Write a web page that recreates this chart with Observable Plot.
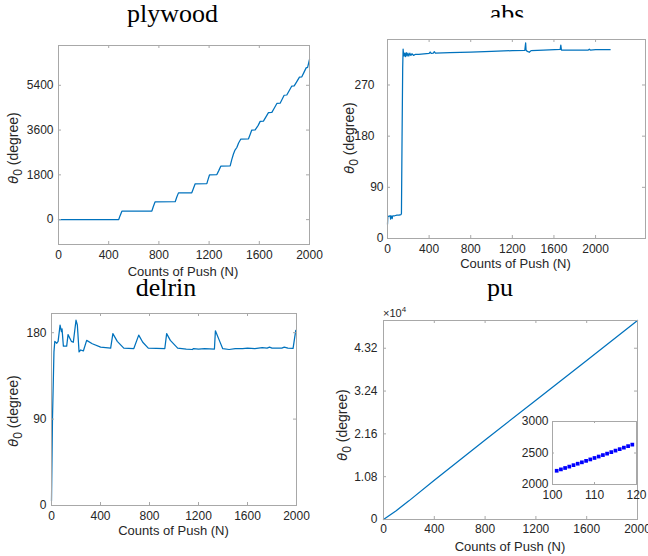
<!DOCTYPE html>
<html>
<head>
<meta charset="utf-8">
<script src="https://cdn.jsdelivr.net/npm/d3@7"></script>
<script src="https://cdn.jsdelivr.net/npm/@observablehq/plot@0.6"></script>
<style>
  html, body { margin: 0; padding: 0; background: white; }
  #root { position: relative; width: 648px; height: 556px; overflow: hidden; background: white; }
  #root svg { position: absolute; overflow: visible; }
</style>
</head>
<body>
<div id="root"></div>
<script>
// ---------- data ----------
const plywoodX = [0, 480, 490, 505, 744, 755, 770, 930, 942, 956, 1062, 1075, 1089, 1182, 1192, 1203, 1262, 1278, 1293, 1368, 1380, 1394, 1405, 1421, 1435, 1453, 1514, 1527, 1540, 1567, 1590, 1607, 1633, 1653, 1673, 1700, 1720, 1740, 1766, 1782, 1798, 1819, 1839, 1859, 1878, 1900, 1920, 1939, 1956, 1973, 1985, 2000];
const plywoodY = [0, 5, 150, 340, 345, 520, 715, 720, 900, 1075, 1080, 1250, 1440, 1445, 1620, 1795, 1810, 1980, 2150, 2160, 2400, 2640, 2780, 2900, 3080, 3240, 3250, 3420, 3600, 3610, 3780, 3950, 3960, 4130, 4300, 4310, 4490, 4670, 4680, 4840, 5000, 5010, 5190, 5370, 5380, 5560, 5730, 5740, 5920, 6100, 6120, 6440];

const absX = [0, 3, 8, 25, 30, 35, 45, 50, 70, 90, 110, 130, 134, 140, 146, 150, 153, 158, 165, 172, 180, 188, 196, 205, 215, 225, 235, 250, 270, 300, 400, 410, 420, 440, 450, 460, 600, 800, 1000, 1200, 1320, 1328, 1332, 1345, 1363, 1380, 1500, 1660, 1666, 1672, 1700, 1800, 1930, 1940, 1950, 2000, 2140];
const absY = [25, 38, 39, 40, 34, 40, 35, 40, 40, 41, 41, 42, 44, 180, 300, 333, 327, 321, 326, 320, 327, 321, 326, 321, 326, 322, 325, 322, 324, 324, 325.5, 328, 325.5, 326, 328.5, 326, 327, 328, 329, 330.5, 331, 344, 331, 329, 327.5, 330.5, 331.5, 332.5, 340, 331.5, 331.5, 331.5, 331.5, 333, 331.5, 332, 332];

const delrinX = [0, 8, 20, 27, 43, 54, 70, 81, 86, 97, 124, 135, 162, 178, 200, 211, 225, 238, 260, 287, 333, 401, 483, 501, 537, 590, 672, 712, 745, 790, 925, 940, 970, 1030, 1100, 1150, 1160, 1200, 1250, 1330, 1338, 1370, 1398, 1450, 1500, 1560, 1600, 1660, 1720, 1760, 1780, 1800, 1880, 1900, 1930, 1972, 1994];
const delrinY = [5, 90, 160, 171, 169, 171, 188, 181, 184, 166, 166, 178, 171, 170, 193, 188, 160, 162, 161, 172, 168.5, 165, 164, 179, 171, 164, 163.5, 177.5, 170, 164, 163.5, 179, 172, 164, 163, 162.5, 163.5, 163, 163.5, 163, 182, 172, 163.3, 162.5, 163.5, 163.5, 164, 163.5, 164.5, 164, 165, 164, 164, 165, 164, 163.7, 182.5];

const puX = [0, 100, 200, 400, 800, 1200, 1600, 2000];
const puY = [0, 2220, 4700, 9900, 20050, 30100, 40100, 50200];

const insetX = [101, 102, 103, 104, 105, 106, 107, 108, 109, 110, 111, 112, 113, 114, 115, 116, 117, 118, 119];
const insetY = [2218, 2240, 2262, 2284, 2307, 2330, 2352, 2375, 2398, 2421, 2444, 2467, 2490, 2514, 2538, 2561, 2585, 2609, 2633];

const countTicks = [0, 400, 800, 1200, 1600, 2000];
const plywoodYTicks = [0, 1800, 3600, 5400];
const absYTicks = [0, 90, 180, 270];
const delrinYTicks = [0, 90, 180];
const puYTicks = [0, 10800, 21600, 32400, 43200];
const insetXTicks = [100, 110, 120];
const insetYTicks = [2000, 2500, 3000];

const titles = ["plywood", "abs", "delrin", "pu"];
const xLabel = "Counts of Push (N)";

// ---------- rendering ----------
const root = document.getElementById("root");
const AX = "#a8a8a8";
const TXT = "#262626";
const BLUE = "#0072BD";
const FONT = "'Liberation Sans', Arial, Helvetica, sans-serif";

function panel(cfg) {
  const mL = 50, mR = 30, mT = 12, mB = 28;
  const [l, t, r, b] = cfg.frame;
  const W = r - l, H = b - t;
  const tk = cfg.tick ?? 3;
  const fmt = d => String(d);
  // y tick labels, optionally in groups with their own padding
  const yGroups = cfg.yGroups ?? [[cfg.yTicks, cfg.yPad]];
  const chart = Plot.plot({
    width: W + mL + mR, height: H + mT + mB,
    marginLeft: mL, marginRight: mR, marginTop: mT, marginBottom: mB,
    x: {domain: cfg.xDomain},
    y: {domain: cfg.yDomain},
    style: {fontFamily: FONT, fontSize: "12px", color: TXT, background: "transparent", overflow: "visible"},
    marks: [
      Plot.frame({fill: "white", stroke: "none"}),
      ...cfg.marks,
      Plot.tickX(cfg.xTicks, {x: d => d, insetTop: H - tk, stroke: AX}),
      Plot.tickX(cfg.xTicks, {x: d => d, insetBottom: H - tk, stroke: AX}),
      Plot.tickY(cfg.yTicks, {y: d => d, insetRight: W - tk, stroke: AX}),
      Plot.tickY(cfg.yTicks, {y: d => d, insetLeft: W - tk, stroke: AX}),
      Plot.frame({stroke: AX}),
      Plot.axisX(cfg.xTicks, {tickSize: 0, tickPadding: cfg.xPad ?? 6, label: null, tickFormat: fmt, fill: TXT}),
      ...yGroups.map(([ticks, pad]) =>
        Plot.axisY(ticks, {tickSize: 0, tickPadding: pad, label: null, tickFormat: cfg.yFmt ?? fmt, fill: TXT}))
    ]
  });
  chart.style.left = (l - mL) + "px";
  chart.style.top = (t - mT) + "px";
  root.appendChild(chart);
}

const lineOpts = {x: "x", y: "y", stroke: BLUE, strokeWidth: 1.25};
const rows = (xs, ys) => xs.map((x, i) => ({x, y: ys[i]}));

panel({
  frame: [58, 45, 309, 244], xDomain: [0, 2000], yDomain: [-1000, 7000],
  xTicks: countTicks, yTicks: plywoodYTicks, yPad: 5,
  marks: [Plot.line(rows(plywoodX, plywoodY), lineOpts)]
});
panel({
  frame: [387, 39, 645, 238], xDomain: [0, 2480], yDomain: [0, 350],
  xTicks: countTicks, yTicks: absYTicks, yPad: 14, xPad: 6,
  yGroups: [[absYTicks.slice(0, 2), 4], [absYTicks.slice(2), 13]],
  marks: [Plot.line(rows(absX, absY), lineOpts)]
});
panel({
  frame: [51, 313, 296, 505], xDomain: [0, 2000], yDomain: [0, 200],
  xTicks: countTicks, yTicks: delrinYTicks, yPad: 5,
  marks: [Plot.line(rows(delrinX, delrinY), lineOpts)]
});
panel({
  frame: [383, 320, 637, 519], xDomain: [0, 2000], yDomain: [0, 50200],
  xTicks: countTicks, yTicks: puYTicks, yPad: 6, xPad: 5,
  yFmt: d => d === 0 ? "0" : (d / 1e4).toFixed(2),
  marks: [Plot.line(rows(puX, puY), lineOpts)]
});
panel({
  frame: [552, 421, 636, 484], xDomain: [100, 120], yDomain: [2000, 3000],
  xTicks: insetXTicks, yTicks: insetYTicks, yPad: 4, xPad: 6, tick: 2,
  marks: [Plot.dot(rows(insetX, insetY), {x: "x", y: "y", symbol: "square", r: 2.1, fill: "#0000ff", stroke: "none"})]
});

// ---------- text overlay ----------
const NS = "http://www.w3.org/2000/svg";
const ov = document.createElementNS(NS, "svg");
ov.setAttribute("width", 648);
ov.setAttribute("height", 556);
ov.style.left = "0px"; ov.style.top = "0px"; ov.style.pointerEvents = "none";
ov.innerHTML = `<defs><clipPath id="absclip"><rect x="440" y="0" width="140" height="17.5"/></clipPath></defs>`;
root.appendChild(ov);

function txt(s, x, y, opts = {}) {
  const e = document.createElementNS(NS, "text");
  e.setAttribute("x", x); e.setAttribute("y", y);
  e.setAttribute("text-anchor", opts.anchor ?? "middle");
  e.setAttribute("font-family", opts.family ?? FONT);
  e.setAttribute("font-size", opts.size ?? 13);
  e.setAttribute("fill", opts.fill ?? TXT);
  if (opts.clip) e.setAttribute("clip-path", `url(#${opts.clip})`);
  e.textContent = s;
  ov.appendChild(e);
  return e;
}
const SERIF = "'Liberation Serif', 'Times New Roman', Times, serif";
txt(titles[0], 172.5, 22, {family: SERIF, size: 26, fill: "#000"});
txt(titles[1], 507, 22, {family: SERIF, size: 26, fill: "#000", clip: "absclip"});
txt(titles[2], 166, 296, {family: SERIF, size: 26, fill: "#000"});
txt(titles[3], 500, 296, {family: SERIF, size: 26, fill: "#000"});

txt(xLabel, 183, 276, {size: 13});
txt(xLabel, 515.5, 268, {size: 13});
txt(xLabel, 173.5, 535, {size: 13});
txt(xLabel, 510, 550.5, {size: 13});

function ylab(cx, cy) {
  const g = document.createElementNS(NS, "g");
  g.setAttribute("transform", `translate(${cx},${cy}) rotate(-90)`);
  const e = document.createElementNS(NS, "text");
  e.setAttribute("x", 0); e.setAttribute("y", 4);
  e.setAttribute("text-anchor", "middle");
  e.setAttribute("font-family", FONT);
  e.setAttribute("font-size", 14);
  e.setAttribute("fill", TXT);
  e.innerHTML = `<tspan font-style="italic" font-family="'DejaVu Sans', sans-serif" font-size="13">θ</tspan><tspan dy="4" font-size="12">0</tspan><tspan dy="-4"> (degree)</tspan>`;
  g.appendChild(e);
  ov.appendChild(g);
}
ylab(14, 148);
ylab(350, 138);
ylab(14, 411);
ylab(343, 425);

const mult = txt("", 383, 317, {anchor: "start", size: 11});
mult.innerHTML = `×10<tspan dy="-5" font-size="8">4</tspan>`;
</script>
</body>
</html>
